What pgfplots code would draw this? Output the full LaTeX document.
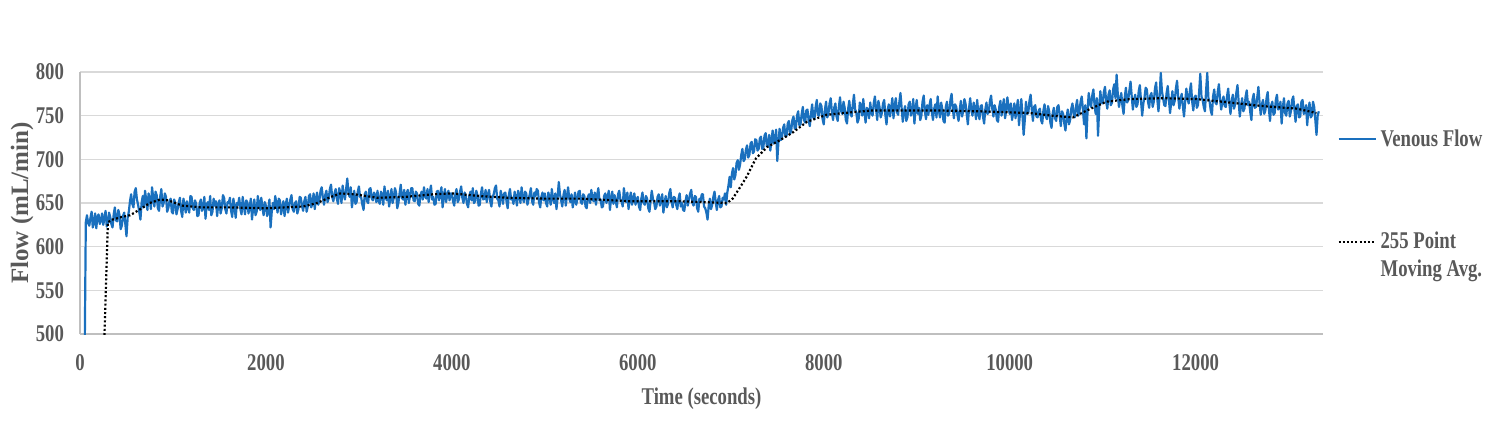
\documentclass[border=0pt]{standalone}
\usepackage{fontspec}
\setmainfont[FakeStretch=0.78]{Liberation Serif}
\newfontfamily\ylabfont{Liberation Serif}
\usepackage{pgfplots}
\pgfplotsset{compat=1.18}
\definecolor{vblue}{RGB}{26,112,190}
\definecolor{txt}{RGB}{89,89,89}
\definecolor{gridc}{RGB}{217,217,217}
\definecolor{axc}{RGB}{191,191,191}
\newcommand\lbl{\fontsize{12bp}{14bp}\selectfont\bfseries}

\begin{document}
\begin{tikzpicture}
\useasboundingbox (0,0) rectangle (750bp,210.5bp);
\begin{axis}[
  at={(40bp,43.5bp)}, anchor=south west,
  scale only axis, width=621.5bp, height=131bp,
  xmin=0, xmax=13370, ymin=500, ymax=800,
  xtick={0,2000,4000,6000,8000,10000,12000},
  ytick={500,550,600,650,700,750,800},
  scaled ticks=false,
  /pgf/number format/1000 sep={},
  /pgf/number format/assume math mode=true,
  tick label style={font=\lbl, text=txt},
  xticklabel style={yshift=-6.5bp},
  yticklabel style={xshift=-4.5bp},
  major tick length=0pt,
  ymajorgrids, grid style={gridc, line width=0.6bp},
  axis x line*=bottom, axis y line*=left,
  axis line style={axc, line width=0.6bp, -},
  every axis x label/.style={at={(rel axis cs:0.5,0)}, yshift=-32.5bp, anchor=center, font=\lbl, text=txt},
  every axis y label/.style={at={(rel axis cs:0,0.5)}, xshift=-29bp, rotate=90, anchor=center, font=\lbl, text=txt},
  xlabel={Time (seconds)},
  ylabel={{\fontsize{12.5bp}{15bp}\ylabfont\bfseries Flow (mL/min)}},
  legend style={draw=none, fill=none, at={(rel axis cs:1,0.797)}, anchor=north west,
    xshift=7bp, font=\lbl, text=txt, cells={anchor=base west}, row sep=36bp, inner sep=0pt},
  legend image code/.code={\draw[#1] (0bp,3.5bp) -- (18.5bp,3.5bp);},
]
\addplot[vblue, line width=1.1bp, line join=round] table[x expr=50+12.5*\coordindex, y index=0, header=false, row sep=\\] {
470\\ 628\\
636\\ 627\\ 624\\ 633\\ 640\\ 622\\ 628\\ 638\\ 621\\ 634\\ 637\\ 626\\ 630\\ 638\\ 625\\ 632\\ 641\\ 623\\ 627\\ 639\\
634\\ 626\\ 622\\ 637\\ 645\\ 630\\ 629\\ 642\\ 636\\ 620\\ 624\\ 635\\ 639\\ 626\\ 612\\ 633\\ 640\\ 652\\
660\\ 649\\ 645\\ 663\\ 667\\ 654\\ 648\\ 640\\ 631\\ 650\\ 658\\ 645\\ 664\\ 653\\ 642\\ 661\\ 655\\ 643\\ 668\\ 656\\
646\\ 663\\ 659\\ 644\\ 641\\ 657\\ 666\\ 646\\ 650\\ 661\\ 657\\ 640\\
644\\ 652\\ 655\\ 640\\ 638\\ 654\\ 650\\ 637\\ 643\\ 651\\ 656\\ 641\\ 634\\ 655\\ 648\\ 639\\ 652\\ 645\\ 639\\ 658\\
657\\ 644\\ 642\\ 653\\ 649\\ 635\\ 636\\ 650\\ 654\\ 641\\ 645\\ 657\\ 632\\ 648\\ 651\\ 642\\ 658\\ 636\\ 640\\ 655\\
647\\ 652\\ 635\\ 649\\ 653\\ 638\\ 644\\ 659\\ 656\\ 643\\ 638\\ 651\\ 650\\ 656\\ 641\\ 634\\ 655\\ 645\\ 633\\ 650\\
648\\ 656\\ 643\\ 637\\ 657\\ 646\\ 637\\ 653\\ 651\\ 638\\ 646\\ 655\\ 631\\ 644\\ 654\\ 636\\ 640\\ 658\\ 649\\ 642\\
656\\ 645\\ 636\\ 651\\ 647\\ 635\\ 642\\ 654\\ 622\\ 640\\ 650\\ 643\\ 658\\ 649\\ 639\\ 655\\ 653\\ 637\\ 644\\ 652\\
635\\ 648\\ 655\\ 639\\ 646\\ 654\\ 659\\ 643\\ 640\\ 650\\ 652\\ 638\\ 643\\ 657\\ 656\\ 647\\
641\\ 652\\ 657\\ 640\\ 646\\ 658\\ 660\\ 645\\ 650\\ 661\\ 643\\ 655\\ 662\\ 648\\ 653\\ 664\\ 668\\ 656\\ 648\\ 659\\
664\\ 651\\ 655\\ 666\\ 671\\ 657\\
652\\ 661\\ 666\\ 655\\ 649\\ 667\\ 662\\ 650\\ 670\\ 659\\ 654\\ 666\\ 678\\ 662\\ 657\\ 668\\ 645\\ 656\\ 664\\ 649\\
651\\ 663\\ 669\\ 657\\ 656\\ 648\\ 642\\ 660\\ 663\\ 652\\ 650\\ 666\\ 667\\ 655\\ 653\\ 662\\ 659\\ 651\\
664\\ 652\\ 649\\ 663\\ 660\\ 648\\ 669\\ 657\\ 653\\ 664\\ 646\\ 655\\ 666\\ 650\\ 656\\ 667\\ 662\\ 644\\ 650\\ 661\\
671\\ 656\\ 654\\ 665\\ 648\\ 660\\ 665\\ 650\\ 658\\ 667\\ 667\\ 653\\ 652\\ 663\\ 661\\ 649\\ 647\\ 659\\ 663\\ 654\\
668\\ 658\\ 655\\ 666\\ 651\\ 662\\ 670\\ 654\\ 657\\ 648\\ 649\\ 663\\ 664\\ 653\\ 660\\ 668\\ 645\\ 657\\ 666\\ 651\\
659\\ 664\\ 653\\ 661\\
661\\ 652\\ 647\\ 660\\ 666\\ 651\\ 654\\ 663\\ 669\\ 656\\ 650\\ 662\\ 658\\ 649\\ 645\\ 658\\ 663\\ 653\\ 667\\ 650\\
652\\ 664\\ 659\\ 647\\ 648\\ 661\\ 668\\ 654\\ 655\\ 665\\ 651\\ 660\\ 665\\ 652\\ 646\\ 657\\ 660\\ 667\\ 670\\ 655\\
653\\ 646\\ 664\\ 658\\ 649\\ 661\\ 662\\ 652\\ 644\\ 659\\ 666\\ 654\\ 656\\ 649\\ 663\\ 657\\ 647\\ 664\\ 659\\ 650\\
668\\ 656\\ 651\\ 663\\ 661\\ 648\\ 654\\ 660\\ 667\\ 652\\ 648\\ 662\\ 658\\ 666\\ 664\\ 651\\ 645\\ 657\\ 662\\ 653\\
661\\ 650\\ 646\\ 662\\ 657\\ 648\\ 666\\ 655\\ 650\\ 661\\ 643\\ 657\\ 674\\ 660\\ 653\\ 646\\ 659\\ 665\\ 647\\ 658\\
668\\ 655\\ 651\\ 660\\ 645\\ 653\\ 662\\ 648\\ 655\\ 663\\ 664\\ 651\\ 649\\ 660\\ 658\\ 646\\ 644\\ 657\\ 660\\ 650\\
665\\ 655\\ 652\\ 662\\ 648\\ 659\\ 667\\ 653\\ 654\\ 645\\ 646\\ 658\\ 661\\ 650\\ 657\\ 664\\ 642\\ 655\\ 663\\ 649\\
659\\ 652\\ 645\\ 660\\ 664\\ 654\\ 652\\ 646\\ 667\\ 657\\ 651\\ 662\\ 643\\ 655\\ 662\\ 648\\ 655\\ 661\\ 648\\ 654\\
657\\ 646\\ 642\\ 655\\ 662\\ 650\\ 648\\ 658\\ 655\\ 644\\ 640\\ 652\\ 664\\ 655\\ 651\\ 643\\ 646\\ 657\\ 660\\ 647\\
653\\ 660\\ 639\\ 650\\ 658\\ 645\\ 649\\ 661\\ 666\\ 652\\ 645\\ 657\\ 656\\ 648\\ 643\\ 655\\ 661\\ 646\\ 650\\ 642\\
641\\ 652\\ 659\\ 647\\ 654\\ 661\\ 665\\ 650\\ 647\\ 658\\ 657\\ 644\\ 640\\ 655\\ 652\\ 660\\ 660\\ 646\\ 644\\ 639\\
631\\ 647\\ 655\\ 643\\ 648\\ 657\\ 663\\ 651\\ 642\\ 653\\ 658\\ 645\\ 646\\ 656\\ 654\\ 661\\
648\\ 662\\ 670\\ 680\\ 668\\ 684\\ 690\\ 677\\ 682\\ 696\\ 699\\ 688\\ 694\\ 705\\ 712\\ 698\\ 700\\ 711\\ 716\\ 702\\
705\\ 718\\ 720\\ 707\\ 709\\ 723\\ 722\\ 710\\ 712\\ 724\\ 726\\ 712\\ 713\\ 727\\ 730\\ 715\\ 716\\ 728\\ 710\\ 722\\
733\\ 718\\ 722\\ 734\\ 698\\ 720\\ 735\\ 722\\ 724\\ 736\\ 740\\ 726\\ 727\\ 741\\ 744\\ 729\\ 733\\ 745\\ 749\\ 735\\
736\\ 750\\ 755\\ 739\\ 740\\ 752\\ 760\\ 745\\ 742\\ 756\\ 757\\ 744\\ 738\\ 752\\ 763\\ 748\\ 746\\ 760\\ 768\\ 751\\
750\\ 764\\ 761\\ 746\\ 740\\ 757\\ 766\\ 748\\ 752\\ 764\\ 770\\ 754\\ 745\\ 759\\
764\\ 749\\ 744\\ 760\\ 771\\ 755\\ 752\\ 766\\ 759\\ 745\\ 741\\ 758\\ 767\\ 752\\ 749\\ 763\\ 774\\ 757\\ 754\\ 742\\
746\\ 765\\ 762\\ 750\\ 769\\ 754\\ 742\\ 759\\ 757\\ 747\\ 765\\ 753\\ 750\\ 764\\ 772\\ 758\\ 745\\ 767\\ 760\\ 748\\
753\\ 764\\ 768\\ 751\\ 740\\ 757\\ 763\\ 749\\ 758\\ 770\\ 747\\ 761\\ 770\\ 754\\ 751\\ 765\\ 776\\ 759\\ 743\\ 755\\
761\\ 744\\ 748\\ 763\\ 766\\ 750\\ 755\\ 769\\ 741\\ 758\\ 768\\ 752\\ 759\\ 745\\ 750\\ 766\\ 773\\ 755\\ 746\\ 762\\
751\\ 762\\ 769\\ 754\\ 745\\ 758\\ 763\\ 748\\ 772\\ 757\\ 748\\ 765\\ 758\\ 744\\ 742\\ 760\\ 766\\ 750\\ 753\\ 768\\
775\\ 758\\ 747\\ 763\\ 760\\ 751\\ 744\\ 757\\ 767\\ 749\\ 755\\ 769\\ 764\\ 752\\ 740\\ 758\\ 770\\ 756\\ 750\\ 765\\
759\\ 746\\ 768\\ 753\\ 746\\ 761\\ 762\\ 749\\ 741\\ 757\\ 765\\ 752\\ 754\\ 767\\ 773\\ 758\\ 749\\ 762\\ 757\\ 745\\
743\\ 760\\ 767\\ 750\\ 761\\ 769\\ 747\\ 756\\ 771\\ 759\\ 752\\ 764\\ 745\\ 753\\ 764\\ 747\\ 758\\ 768\\ 739\\ 755\\
769\\ 750\\ 728\\ 745\\ 766\\ 752\\ 753\\ 767\\ 774\\ 757\\ 744\\ 760\\ 762\\ 749\\ 748\\ 756\\
758\\ 745\\ 741\\ 756\\ 763\\ 749\\ 746\\ 761\\ 755\\ 742\\ 736\\ 753\\ 759\\ 747\\ 744\\ 760\\ 762\\ 750\\ 738\\ 755\\
752\\ 741\\ 733\\ 749\\ 757\\ 740\\ 745\\ 758\\ 764\\ 752\\
748\\ 760\\ 768\\ 750\\ 755\\ 766\\ 772\\ 757\\ 740\\ 762\\ 724\\ 755\\ 776\\ 765\\ 760\\ 773\\ 780\\ 762\\ 752\\ 770\\
727\\ 758\\ 778\\ 765\\ 764\\ 777\\
783\\ 766\\ 758\\ 774\\ 779\\ 762\\ 765\\ 780\\ 786\\ 770\\ 797\\ 775\\ 760\\ 768\\ 776\\ 761\\ 752\\ 771\\ 782\\ 765\\
768\\ 779\\ 789\\ 772\\ 757\\ 768\\ 774\\ 760\\ 763\\ 778\\ 785\\ 767\\ 750\\ 764\\ 771\\ 782\\ 780\\ 766\\ 759\\ 773\\
776\\ 760\\ 766\\ 781\\ 788\\ 769\\ 755\\ 772\\ 799\\ 778\\ 770\\ 762\\ 761\\ 776\\ 784\\ 768\\ 753\\ 766\\ 778\\ 762\\
767\\ 781\\ 790\\ 771\\ 758\\ 769\\ 775\\ 761\\ 749\\ 766\\ 781\\ 770\\ 764\\ 778\\ 787\\ 766\\ 756\\ 771\\ 773\\ 759\\
762\\ 777\\ 798\\ 772\\ 768\\ 760\\ 755\\ 779\\ 799\\ 770\\ 766\\ 756\\ 751\\ 772\\ 780\\ 765\\ 763\\ 777\\ 786\\ 769\\
757\\ 766\\ 772\\ 761\\
760\\ 772\\ 781\\ 764\\ 752\\ 767\\ 774\\ 758\\ 763\\ 776\\ 785\\ 766\\ 749\\ 761\\ 770\\ 755\\ 758\\ 772\\ 779\\ 762\\
766\\ 754\\ 745\\ 769\\ 775\\ 759\\ 760\\ 771\\ 783\\ 765\\ 751\\ 763\\ 768\\ 752\\ 756\\ 770\\ 777\\ 758\\ 744\\ 762\\
766\\ 751\\ 753\\ 768\\ 774\\ 757\\ 759\\ 766\\ 741\\ 759\\ 770\\ 753\\ 750\\ 764\\ 767\\ 749\\ 755\\ 768\\ 772\\ 757\\
743\\ 761\\ 763\\ 748\\ 749\\ 766\\ 768\\ 752\\ 754\\ 762\\ 739\\ 757\\ 765\\ 748\\ 750\\ 766\\ 760\\ 745\\ 728\\ 750\\
755\\
};
\addlegendentry{Venous Flow}
\addplot[black, line width=1.1bp, dash pattern=on 1bp off 1.1bp] coordinates {
(255,470) (300,628) (350,631) (450,634) (540,636) (650,643) (750,650) (860,654)
(950,653) (1100,647) (1300,645) (1600,645) (2000,644) (2200,645) (2400,646)
(2550,650) (2700,657) (2800,661) (2950,660) (3200,656) (3500,657) (3800,660)
(4000,661) (4300,658) (4600,656) (5000,655) (5400,655) (5900,652) (6200,652)
(6450,652) (6700,651) (6960,650) (7020,655) (7100,668) (7170,680) (7270,701)
(7390,714) (7530,722) (7670,731) (7820,743) (8030,751) (8310,754) (8530,756)
(8740,756) (9200,756) (9680,755) (10215,753) (10460,750) (10680,748) (10830,756)
(11040,766) (11290,769) (11650,770) (12010,769) (12370,765) (12720,761)
(13090,758) (13300,753)
};
\addlegendentry{\begin{tabular}[t]{@{}l@{}}255 Point\\Moving Avg.\end{tabular}}
\end{axis}
\end{tikzpicture}
\end{document}
